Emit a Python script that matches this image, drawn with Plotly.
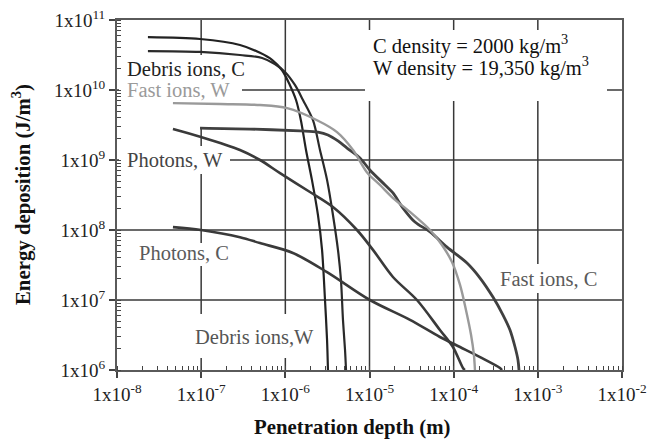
import math
import plotly.graph_objects as go

# ---------------- data ----------------
debris_w_x = [2.33e-8, 9.7e-8, 2.89e-7, 5.0e-7, 6.95e-7, 9.1e-7, 1.13e-6, 1.34e-6, 1.53e-6,
              1.76e-6, 2.07e-6, 2.44e-6, 2.73e-6, 2.96e-6, 3.13e-6, 3.21e-6]
debris_w_y = [5.7e10, 5.35e10, 4.4e10, 3.4e10, 2.7e10, 1.93e10, 1.18e10, 7.2e9, 3.7e9,
              1.39e9, 5.2e8, 1.64e8, 5.2e7, 1.0e7, 2.7e6, 1.0e6]

debris_c_x = [2.33e-8, 9.7e-8, 2.89e-7, 5.3e-7, 7.5e-7, 9.9e-7, 1.30e-6, 1.62e-6, 2.13e-6,
              2.58e-6, 3.13e-6, 3.68e-6, 4.22e-6, 4.58e-6, 4.84e-6, 5.12e-6, 5.26e-6]
debris_c_y = [3.6e10, 3.5e10, 3.16e10, 2.87e10, 2.35e10, 1.81e10, 1.18e10, 7.2e9, 3.7e9,
              1.39e9, 5.2e8, 1.64e8, 5.2e7, 1.93e7, 5.2e6, 1.93e6, 1.0e6]

fast_w_x = [4.62e-8, 1.67e-7, 5.0e-7, 1.05e-6, 2.38e-6, 4.11e-6, 6.37e-6, 9.3e-6, 1.33e-5,
            1.90e-5, 3.03e-5, 5.24e-5, 7.26e-5, 9.55e-5, 1.19e-4, 1.40e-4, 1.61e-4, 1.74e-4, 1.79e-4]
fast_w_y = [6.5e9, 6.3e9, 6.1e9, 5.5e9, 3.7e9, 2.5e9, 1.39e9, 6.7e8, 4.4e8,
            2.86e8, 1.81e8, 1.0e8, 6.1e7, 3.49e7, 1.64e7, 7.2e6, 3.16e6, 1.64e6, 1.0e6]

fast_c_x = [9.7e-8, 3.8e-7, 1.49e-6, 2.44e-6, 3.21e-6, 4.22e-6, 5.41e-6, 7.7e-6, 1.01e-5, 1.53e-5,
            1.90e-5, 2.50e-5, 3.47e-5, 5.24e-5, 8.34e-5, 1.44e-4, 2.06e-4, 2.93e-4, 3.86e-4,
            4.67e-4, 5.36e-4, 5.81e-4, 5.97e-4]
fast_c_y = [2.86e9, 2.77e9, 2.6e9, 2.5e9, 2.28e9, 1.87e9, 1.48e9, 1.07e9, 7.2e8, 4.4e8,
            3.38e8, 2.06e8, 1.30e8, 9.4e7, 5.7e7, 3.38e7, 2.06e7, 1.10e7, 6.1e6,
            3.73e6, 2.13e6, 1.39e6, 1.0e6]

photons_w_x = [4.62e-8, 9.96e-8, 2.89e-7, 5.0e-7, 8.65e-7, 1.96e-6, 3.68e-6, 7.1e-6, 1.10e-5,
               1.90e-5, 3.66e-5, 6.87e-5, 9.8e-5, 1.29e-4, 1.36e-4]
photons_w_y = [2.77e9, 2.13e9, 1.39e9, 1.0e9, 6.5e8, 3.49e8, 2.13e8, 1.0e8, 5.2e7,
               2.13e7, 1.0e7, 3.73e6, 2.13e6, 1.07e6, 1.0e6]

photons_c_x = [4.62e-8, 9.96e-8, 2.89e-7, 5.0e-7, 1.23e-6, 3.13e-6, 1.01e-5, 3.03e-5,
               6.87e-5, 1.19e-4, 2.06e-4, 3.55e-4, 3.75e-4]
photons_c_y = [1.10e8, 1.0e8, 7.9e7, 6.5e7, 4.7e7, 2.5e7, 1.0e7, 5.2e6,
               2.96e6, 2.13e6, 1.53e6, 1.07e6, 1.0e6]

x_tickvals = [1e-8, 1e-7, 1e-6, 1e-5, 1e-4, 1e-3, 1e-2]
x_ticktext = ["1x10<sup>-8</sup>", "1x10<sup>-7</sup>", "1x10<sup>-6</sup>", "1x10<sup>-5</sup>",
              "1x10<sup>-4</sup>", "1x10<sup>-3</sup>", "1x10<sup>-2</sup>"]
y_tickvals = [1e6, 1e7, 1e8, 1e9, 1e10, 1e11]
y_ticktext = ["1x10<sup>6</sup>", "1x10<sup>7</sup>", "1x10<sup>8</sup>", "1x10<sup>9</sup>",
              "1x10<sup>10</sup>", "1x10<sup>11</sup>"]

# ---------------- figure ----------------
W, H = 650, 442
L, R, T, B = 117, 28, 20, 72
PW, PH = W - L - R, H - T - B
XR = [-8, -2]
YR = [6, 11]


def px(xp):
    return (xp - L) / PW


def py(yp):
    return (T + PH - yp) / PH


FONT = "Liberation Serif, Times New Roman, serif"
GRID = "#383838"

fig = go.Figure()
series = [
    (debris_w_x, debris_w_y, "#222222", 2.2),
    (debris_c_x, debris_c_y, "#2a2a2a", 2.2),
    (photons_w_x, photons_w_y, "#3a3a3a", 2.6),
    (photons_c_x, photons_c_y, "#3a3a3a", 2.6),
    (fast_c_x, fast_c_y, "#404040", 2.8),
    (fast_w_x, fast_w_y, "#9a9a9a", 2.4),
]
for xs, ys, col, w in series:
    fig.add_trace(go.Scatter(x=xs, y=ys, mode="lines",
                             line=dict(color=col, width=w, shape="spline", smoothing=0.9),
                             showlegend=False, hoverinfo="skip"))

# grid lines (drawn as shapes below the traces so label boxes can interrupt them)
for v in x_tickvals[1:-1]:
    f = (math.log10(v) - XR[0]) / (XR[1] - XR[0])
    fig.add_shape(type="line", xref="x domain", yref="y domain", x0=f, x1=f, y0=0, y1=1,
                  line=dict(color=GRID, width=1.5), layer="below")
for v in y_tickvals[1:-1]:
    f = (math.log10(v) - YR[0]) / (YR[1] - YR[0])
    fig.add_shape(type="line", xref="x domain", yref="y domain", x0=0, x1=1, y0=f, y1=f,
                  line=dict(color=GRID, width=1.5), layer="below")

# white boxes behind labels (over the grid, under the traces)
boxes = [
    (119, 55, 242, 127),
    (119, 146, 230, 174),
    (130, 243, 234, 266),
    (188, 314, 320, 358),
    (493, 264, 604, 293),
    (365, 30, 607, 101),
]
for x0, y0, x1, y1 in boxes:
    fig.add_shape(type="rect", xref="x domain", yref="y domain",
                  x0=px(x0), x1=px(x1), y0=py(y1), y1=py(y0),
                  fillcolor="white", line=dict(width=0), layer="below")

labels = [
    ("Debris ions, C", 125, 69, "#222222"),
    ("Fast ions, W", 125, 90, "#9a9a9a"),
    ("Photons, W", 125, 160, "#444444"),
    ("Photons, C", 137, 253, "#5a5a5a"),
    ("Debris ions,W", 193, 337, "#555555"),
    ("Fast ions, C", 498, 279, "#5a5a5a"),
    ("C density = 2000 kg/m<sup>3</sup>", 371, 45, "#111111"),
    ("W density = 19,350 kg/m<sup>3</sup>", 371, 66, "#111111"),
]
for txt, xl, yc, col in labels:
    fig.add_annotation(text=txt, xref="paper", yref="paper", x=px(xl), y=py(yc),
                       xanchor="left", yanchor="middle", showarrow=False,
                       font=dict(family=FONT, size=20.5, color=col))

fig.add_annotation(text="<b>Penetration depth (m)</b>", xref="paper", yref="paper",
                   x=px(352), y=py(427), xanchor="center", yanchor="middle", showarrow=False,
                   font=dict(family=FONT, size=20.8, color="#111111"))
fig.add_annotation(text="<b>Energy deposition (J/m<sup>3</sup>)</b>", xref="paper", yref="paper",
                   x=px(21), y=py(195), xanchor="center", yanchor="middle", showarrow=False,
                   textangle=-90, font=dict(family=FONT, size=20.8, color="#111111"))

axis_common = dict(
    type="log", showgrid=False,
    showline=True, linecolor="#5a5a5a", linewidth=2, mirror=True,
    ticks="outside", ticklen=6, tickwidth=1.5, tickcolor="#444444",
    tickfont=dict(family=FONT, size=19, color="#222222"),
    minor=dict(ticks="inside", ticklen=4, tickwidth=1, tickcolor="#444444",
               dtick="D1", showgrid=False),
    zeroline=False,
)
fig.update_xaxes(range=XR, tickmode="array", tickvals=x_tickvals, ticktext=x_ticktext,
                 **axis_common)
fig.update_yaxes(range=YR, tickmode="array", tickvals=y_tickvals, ticktext=y_ticktext,
                 **axis_common)

fig.update_layout(width=W, height=H, margin=dict(l=L, r=R, t=T, b=B, autoexpand=False),
                  paper_bgcolor="white", plot_bgcolor="white")

fig.write_html("out.html")
